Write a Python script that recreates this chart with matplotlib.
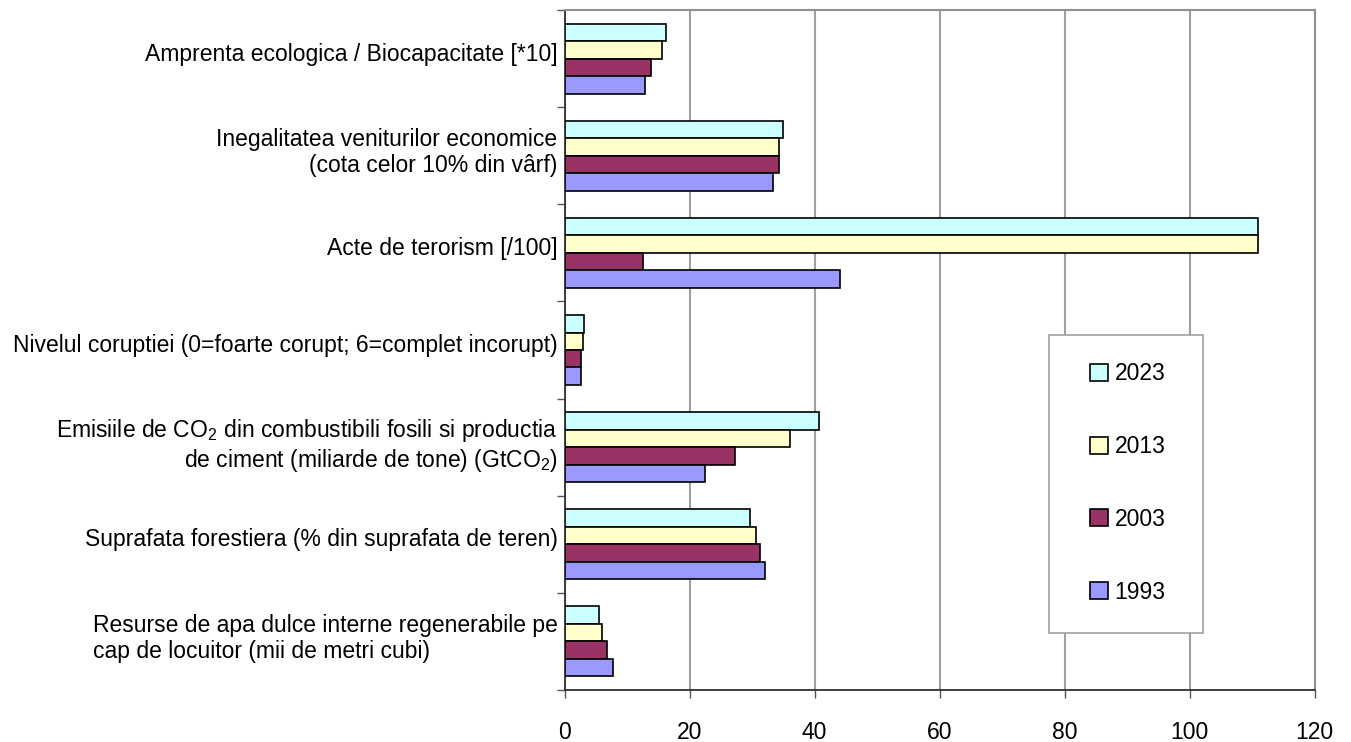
import matplotlib
matplotlib.use("Agg")
import matplotlib.pyplot as plt
import matplotlib.transforms as mtransforms
import numpy as np
from matplotlib.patches import Rectangle

plt.rcParams['font.family'] = ['Liberation Sans', 'DejaVu Sans']
plt.rcParams['mathtext.fontset'] = 'custom'
plt.rcParams['mathtext.rm'] = 'Liberation Sans'
plt.rcParams['mathtext.it'] = 'Liberation Sans'
plt.rcParams['mathtext.default'] = 'regular'

categories = [
    "Amprenta ecologica / Biocapacitate [*10]",
    "Inegalitatea veniturilor economice\n(cota celor 10% din vârf)",
    "Acte de terorism [/100]",
    "Nivelul coruptiei (0=foarte corupt; 6=complet incorupt)",
    "Emisiile de CO$_2$ din combustibili fosili si productia\nde ciment (miliarde de tone) (GtCO$_2$)",
    "Suprafata forestiera (% din suprafata de teren)",
    "Resurse de apa dulce interne regenerabile pe\ncap de locuitor (mii de metri cubi)",
]
years = ["2023", "2013", "2003", "1993"]
v2023 = [16.2, 35.0, 111.0, 3.1, 40.7, 29.6, 5.5]
v2013 = [15.6, 34.3, 111.0, 3.0, 36.0, 30.6, 6.0]
v2003 = [13.8, 34.3, 12.5, 2.7, 27.3, 31.3, 6.8]
v1993 = [12.8, 33.3, 44.1, 2.7, 22.5, 32.0, 7.8]
series = [v2023, v2013, v2003, v1993]
colors = ["#ccffff", "#ffffcc", "#993366", "#9999ff"]
xticks = [0, 20, 40, 60, 80, 100, 120]

fs = 16.5
fig = plt.figure(figsize=(13.51, 7.42), dpi=100)
ax = fig.add_axes([564.5 / 1351, 1 - 690 / 742, 750 / 1351, 680 / 742])

y = np.arange(len(categories))
h = 0.18
for i, (vals, col, yr) in enumerate(zip(series, colors, years)):
    ax.barh(y + (i - 1.5) * h, vals, height=h, color=col, edgecolor="black",
            linewidth=1.2, label=yr, zorder=3)

ax.set_xlim(0, 120)
ax.set_ylim(len(categories) - 0.5, -0.5)
ax.set_xticks(xticks)
ax.set_xticklabels([str(t) for t in xticks], fontsize=fs)
ax.set_yticks(y)
ax.set_yticklabels(categories, fontsize=fs, linespacing=1.15)
ax.set_yticks(np.arange(len(categories) + 1) - 0.5, minor=True)
ax.tick_params(axis='y', which='major', length=0, pad=5)
ax.tick_params(axis='y', which='minor', length=5.5, color="#555555", width=1)
ax.tick_params(axis='x', length=5.5, color="#555555", width=1, pad=17)

# labels sit a little above the group centres in the original
shift = mtransforms.ScaledTranslation(0, 5 / 72, fig.dpi_scale_trans)
for lab in ax.get_yticklabels():
    lab.set_transform(lab.get_transform() + shift)
ax.get_yticklabels()[-1].set_multialignment('left')

ax.grid(axis='x', color="#a0a0a0", linewidth=1.5, zorder=0)
ax.set_axisbelow(True)
for s in ['top', 'right']:
    ax.spines[s].set_color("#909090")
    ax.spines[s].set_linewidth(1.5)
for s in ['left', 'bottom']:
    ax.spines[s].set_color("#303030")
    ax.spines[s].set_linewidth(1.3)

# legend box
box = Rectangle((1049 / 1351, 1 - 633 / 742), 154 / 1351, 298 / 742,
                transform=fig.transFigure, facecolor="white",
                edgecolor="#a0a0a0", linewidth=1.2, zorder=4)
fig.patches.append(box)
leg = fig.legend(loc="center", bbox_to_anchor=(1128 / 1351, 1 - 483 / 742),
                 frameon=False, fontsize=fs, handlelength=0.75,
                 handleheight=0.75, handletextpad=0.3, labelspacing=2.17)
leg.set_zorder(5)

fig.savefig("out.png", dpi=100)
